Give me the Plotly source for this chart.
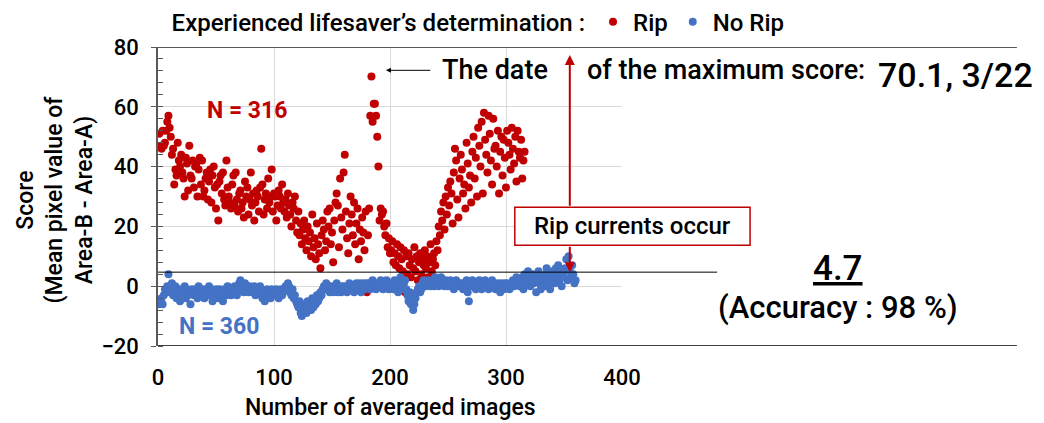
import plotly.graph_objects as go

# ---------------- data ----------------
rip_scores = [
    51, 47, 46, 52, 47, 48, 52, 55, 57, 53,
    50, 44, 46, 34, 39, 37, 48, 42, 40, 44,
    38, 36, 30, 43, 41, 32, 47, 37, 36, 42,
    33, 40, 41, 30, 39, 43, 34, 42, 30, 32,
    36, 38, 29, 35, 39, 28, 37, 40, 33, 26,
    34, 22, 35, 37, 31, 38, 29, 27, 42, 33,
    30, 28, 26, 34, 37, 27, 38, 29, 25, 31,
    32, 26, 28, 23, 35, 30, 33, 24, 29, 38,
    27, 31, 22, 28, 32, 30, 25, 33, 46, 34,
    24, 29, 31, 26, 36, 28, 30, 39, 25, 31,
    30, 22, 27, 32, 30, 26, 34, 28, 25, 29,
    23, 31, 27, 24, 20, 28, 26, 30, 22, 18,
    25, 17, 21, 14, 19, 22, 16, 12, 20, 15,
    18, 10, 24, 13, 16, 9, 21, 14, 11, 6,
    17, 22, 19, 12, 15, 25, 20, 26, 14, 18,
    8, 22, 28, 31, 27, 13, 36, 23, 19, 38,
    44, 25, 16, 11, 21, 30, 24, 17, 28, 14,
    21, 26, 9, 19, 15, 23, 18, 12, 25, -2,
    17, 26, 57, 70.1, 55, 61, 61, 57, 50, 40,
    22, 26, 24, 25, 20, 17, 21, 13, 16, 11,
    12, 15, 8, 11, 7, 14, 10, 6, 13, 9,
    5, 12, -2, 10, 4, 11, 7, 3, 9, 6,
    13, 5, 10, 2, 8, 11, 4, 9, 7, 12,
    6, 10, 3, 8, 14, 5, 9, 11, 7, 15,
    12, 20, 17, 25, 22, 28, 19, 30, 24, 33,
    27, 35, 31, 21, 38, 46, 42, 29, 23, 36,
    44, 39, 31, 34, 26, 48, 41, 33, 37, 28,
    45, 50, 36, 43, 30, 53, 47, 40, 55, 31,
    58, 49, 44, 38, 57, 51, 42, 34, 56, 46,
    47, 40, 52, 31, 45, 50, 37, 49, 43, 33,
    52, 48, 44, 39, 53, 46, 41, 50, 35, 52,
    45, 43, 49, 36, 42, 45,
]

norip_scores = [
    -6, -5, -4, -6, -3, -1, -2, 0, 4, -2,
    -1, 1, -3, -2, 0, -4, -1, -2, -5, -1,
    -3, -2, 0, -4, -1, -3, -2, -6, -1, -2,
    -3, -1, -2, -4, 0, -2, -3, -1, -2, -4,
    -1, -2, -3, 0, -2, -1, -5, -2, -3, -1,
    -2, -4, -1, -3, -2, -5, -1, -2, -3, 0,
    -2, -1, -3, -2, -1, 0, -2, -3, -1, 1,
    2, 0, -1, -2, 1, 0, -1, -2, 0, -1,
    -1, -2, 0, -3, -1, -2, -1, 0, -2, -4,
    -3, -5, -2, -1, -3, -2, -4, -1, -2, -3,
    -2, -1, -3, -4, -2, -1, -3, -2, -1, 0,
    -1, 1, 0, -2, -3, -1, -4, -3, -5, -6,
    -7, -5, -9, -10, -8, -6, -7, -9, -5, -8,
    -6, -8, -4, -7, -5, -6, -3, -5, -4, -2,
    -3, -1, 0, -1, 1, -1, 0, -2, 0, -1,
    -2, 0, -1, 1, -2, 0, -1, -2, 0, -1,
    0, -1, -2, 0, 1, -1, 0, -1, -2, 0,
    1, -1, 0, 1, -2, 0, 1, -1, 0, 1,
    0, 1, -1, 0, 2, 1, 0, -1, 1, 0,
    1, 2, 0, -1, 1, 0, 2, 1, -1, 0,
    1, 0, -1, 2, 1, 0, -2, 1, 3, 0,
    -1, 1, 2, -1, -3, -5, -2, -6, -4, -8,
    -6, -4, -2, -1, 0, -2, -1, 1, 2, 1,
    0, 1, 2, 1, 0, 2, 1, 0, 3, 1,
    2, 0, 1, 3, 2, 1, 0, 2, 1, 0,
    1, 2, 0, 1, -1, 0, 2, 1, 0, 1,
    0, 1, -1, 0, 1, 2, -2, -5, 0, 1,
    2, 0, 1, -1, 0, 1, 2, 0, -1, 1,
    0, 2, 1, 0, -1, 1, 0, 2, 1, 0,
    -1, 0, 1, 0, -2, 1, 0, -1, 1, 0,
    1, 0, -1, 0, 1, 2, 0, 1, 3, 2,
    1, 0, 2, 3, -1, 4, 2, 1, 5, 3,
    0, 2, 4, 1, 3, -2, 2, 5, 1, -1,
    3, 2, 0, 4, 6, 1, 3, -1, 2, 5,
    4, 1, 6, 3, 7, 2, 5, 0, 4, 3,
    6, 9, 2, 10, 5, 3, 7, 4, 1, 2,
]

rip_x = list(range(1, len(rip_scores) + 1))
norip_x = list(range(1, len(norip_scores) + 1))

threshold = 4.7
max_score = 70.1
max_date = "3/22"
accuracy = 98
arrow_x = 355
x_ticks = [0, 100, 200, 300, 400]
y_ticks = [-20, 0, 20, 40, 60, 80]

RED = "#C00000"
BLUE = "#4472C4"
FONT = "Roboto"
W = 500

fig = go.Figure()
fig.add_trace(go.Scatter(x=rip_x, y=rip_scores, mode="markers", name="Rip",
                         marker=dict(color=RED, size=8)))
fig.add_trace(go.Scatter(x=norip_x, y=norip_scores, mode="markers", name="No Rip",
                         marker=dict(color=BLUE, size=8)))

fig.update_layout(
    width=1044, height=423, autosize=False,
    margin=dict(l=158, r=422, t=47, b=77, autoexpand=False),
    paper_bgcolor="white", plot_bgcolor="white",
    font=dict(family=FONT, color="black", size=22, weight=W),
    showlegend=True,
    legend=dict(orientation="h", x=0.025, xanchor="left", y=1.083, yanchor="middle",
                title=dict(text="Experienced lifesaver’s determination :", side="left",
                           font=dict(size=24, weight=W)),
                font=dict(size=24, weight=W), itemwidth=30, tracegroupgap=0,
                bgcolor="rgba(0,0,0,0)"),
    xaxis=dict(range=[0, 400], tickvals=x_ticks, showgrid=True, gridcolor="#D9D9D9",
               zeroline=False, showline=False, ticks="", ticklabelstandoff=16,
               tickfont=dict(size=22, weight=W)),
    yaxis=dict(range=[-20, 80], tickvals=y_ticks, showgrid=True, gridcolor="#D9D9D9",
               zeroline=False, showline=True, linecolor="#595959", linewidth=1.5,
               ticks="outside", ticklen=5, tickcolor="#595959", ticklabelstandoff=8,
               minor=dict(ticks="inside", dtick=4, ticklen=5, tickcolor="#595959", showgrid=False),
               tickfont=dict(size=22, weight=W)),
)

# border-like lines
fig.add_shape(type="line", xref="paper", yref="y", x0=0, x1=1.851, y0=80, y1=80,
              line=dict(color="#595959", width=2))
fig.add_shape(type="line", xref="paper", yref="y", x0=0, x1=1.851, y0=-20, y1=-20,
              line=dict(color="black", width=1.5))
fig.add_shape(type="line", xref="paper", yref="y", x0=0, x1=1.205, y0=threshold, y1=threshold,
              line=dict(color="black", width=1))

# box "Rip currents occur"
fig.add_shape(type="rect", xref="paper", yref="y", x0=0.769, x1=1.276, y0=13.7, y1=26.4,
              line=dict(color=RED, width=1.5), fillcolor="white", layer="above")
fig.add_annotation(xref="paper", yref="y", x=1.0225, y=20.1, xanchor="center", yanchor="middle",
                   text="Rip currents occur", showarrow=False, font=dict(size=24, weight=W))

# red arrows
fig.add_annotation(x=arrow_x, y=77.3, ax=arrow_x, ay=26.4, axref="x", ayref="y",
                   xref="x", yref="y", text="", showarrow=True, arrowhead=2,
                   arrowsize=1, arrowwidth=2, arrowcolor=RED)
fig.add_annotation(x=arrow_x, y=threshold, ax=arrow_x, ay=13.7, axref="x", ayref="y",
                   xref="x", yref="y", text="", showarrow=True, arrowhead=2,
                   arrowsize=1, arrowwidth=2, arrowcolor=RED)

# max arrow
fig.add_annotation(x=196.5, y=72.2, ax=236, ay=72.2, axref="x", ayref="y",
                   xref="x", yref="y", text="", showarrow=True, arrowhead=2,
                   arrowsize=1, arrowwidth=1, arrowcolor="black")
fig.add_annotation(x=243, y=72.2, xref="x", yref="y", xanchor="left", yanchor="middle",
                   text="The date", showarrow=False, font=dict(size=27, weight=W))
fig.add_annotation(x=0.920, y=72.2, xref="paper", yref="y", xanchor="left", yanchor="middle",
                   text="of the maximum score:", showarrow=False, font=dict(size=27, weight=W))
fig.add_annotation(x=1.547, y=70.5, xref="paper", yref="y", xanchor="left", yanchor="middle",
                   text=f"{max_score}, {max_date}", showarrow=False, font=dict(size=34, weight=W))

# N labels
fig.add_annotation(x=77, y=58.9, xref="x", yref="y", xanchor="center", yanchor="middle",
                   text="<b>N = 316</b>", showarrow=False, font=dict(size=23, color=RED))
fig.add_annotation(x=52.6, y=-13.4, xref="x", yref="y", xanchor="center", yanchor="middle",
                   text="<b>N = 360</b>", showarrow=False, font=dict(size=23, color=BLUE))

# threshold text
fig.add_annotation(x=1.466, y=5.9, xref="paper", yref="y", xanchor="center", yanchor="middle",
                   text=f"<u>{threshold}</u>", showarrow=False, font=dict(size=35, weight=W))
fig.add_annotation(x=1.466, y=-7.0, xref="paper", yref="y", xanchor="center", yanchor="middle",
                   text=f"(Accuracy : {accuracy} %)", showarrow=False, font=dict(size=31, weight=W))

# axis titles
fig.add_annotation(x=0.5, y=-0.207, xref="paper", yref="paper", xanchor="center", yanchor="middle",
                   text="Number of averaged images", showarrow=False, font=dict(size=23, weight=W))
fig.add_annotation(x=-0.222, y=0.49, xref="paper", yref="paper", xanchor="center", yanchor="middle",
                   textangle=-90, text="Score<br>(Mean pixel value of<br>Area-B - Area-A)",
                   showarrow=False, font=dict(size=23, weight=W))

fig.write_html("out.html", config={"displayModeBar": False},
               post_script="document.body.style.margin='0';")
